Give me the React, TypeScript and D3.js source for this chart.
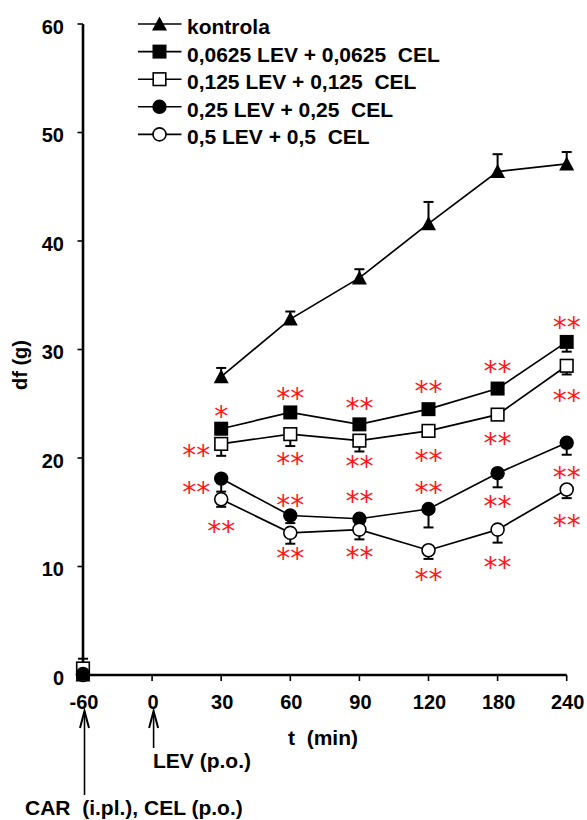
import React from "react";
import * as d3 from "d3";

// ---------- data ----------
const categories = ["-60", "0", "30", "60", "90", "120", "180", "240"];
const yTicks = [0, 10, 20, 30, 40, 50, 60];

const seriesNames = [
  "kontrola",
  "0,0625 LEV + 0,0625  CEL",
  "0,125 LEV + 0,125  CEL",
  "0,25 LEV + 0,25  CEL",
  "0,5 LEV + 0,5  CEL",
];
const seriesMarkers = ["triangle", "squareFilled", "squareOpen", "circleFilled", "circleOpen"];

// mean values (null = not measured); t = 0 has no point
const kontrola = [0, null, 27.5, 32.8, 36.6, 41.6, 46.4, 47.1];
const lev0625 = [0.2, null, 22.7, 24.2, 23.1, 24.5, 26.4, 30.7];
const lev125 = [0.6, null, 21.3, 22.2, 21.6, 22.5, 24.0, 28.5];
const lev25 = [0.1, null, 18.1, 14.7, 14.4, 15.3, 18.6, 21.4];
const lev5 = [0, null, 16.2, 13.1, 13.4, 11.5, 13.4, 17.1];

// SEM (positive = drawn upward, negative = drawn downward)
const kontrolaErr = [0, null, 0.8, 0.7, 0.8, 2.0, 1.6, 1.1];
const lev0625Err = [0, null, -0.5, -0.5, -0.5, -0.5, -0.5, -0.9];
const lev125Err = [0.9, null, -1.1, -1.1, -1.0, -0.5, -0.5, -0.8];
const lev25Err = [0, null, -1.2, -0.7, -0.5, -1.7, -1.3, -1.1];
const lev5Err = [0, null, -0.7, -1.0, -0.9, -0.8, -1.2, -0.8];

// significance marks, the value level where they sit, and side ("c" centred, "l" left)
const kontrolaSig = ["", "", "", "", "", "", "", ""];
const kontrolaSigAt = [null, null, null, null, null, null, null, null];
const kontrolaSigSide = ["c", "c", "c", "c", "c", "c", "c", "c"];
const lev0625Sig = ["", "", "*", "**", "**", "**", "**", "**"];
const lev0625SigAt = [null, null, 24.4, 26.1, 25.2, 26.7, 28.6, 32.6];
const lev0625SigSide = ["c", "c", "c", "c", "c", "c", "c", "c"];
const lev125Sig = ["", "", "**", "**", "**", "**", "**", "**"];
const lev125SigAt = [null, null, 20.8, 20.1, 19.8, 20.4, 21.9, 25.9];
const lev125SigSide = ["c", "c", "l", "c", "c", "c", "c", "c"];
const lev25Sig = ["", "", "**", "**", "**", "**", "**", "**"];
const lev25SigAt = [null, null, 17.4, 16.2, 16.6, 17.4, 16.1, 18.8];
const lev25SigSide = ["c", "c", "l", "c", "c", "c", "c", "c"];
const lev5Sig = ["", "", "**", "**", "**", "**", "**", "**"];
const lev5SigAt = [null, null, 13.8, 11.3, 11.4, 9.4, 10.5, 14.4];
const lev5SigSide = ["c", "c", "c", "c", "c", "c", "c", "c"];

const seriesValues = [kontrola, lev0625, lev125, lev25, lev5];
const seriesErrs = [kontrolaErr, lev0625Err, lev125Err, lev25Err, lev5Err];
const seriesSig = [kontrolaSig, lev0625Sig, lev125Sig, lev25Sig, lev5Sig];
const seriesSigAt = [kontrolaSigAt, lev0625SigAt, lev125SigAt, lev25SigAt, lev5SigAt];
const seriesSigSide = [kontrolaSigSide, lev0625SigSide, lev125SigSide, lev25SigSide, lev5SigSide];

// marker drawing order at the baseline (-60) point, where all groups overlap
const baselineDrawOrder = [0, 4, 1, 2, 3];

const connectedFrom = "30"; // lines start at 30 min
const annotations = [
  { at: "-60", text: "CAR  (i.pl.), CEL (p.o.)" },
  { at: "0", text: "LEV (p.o.)" },
];
const xTitle = "t  (min)";
const yTitle = "df (g)";

// ---------- layout ----------
const W = 587;
const H = 820;
const FONT = "'Liberation Sans', Arial, sans-serif";

const x = d3.scalePoint<string>().domain(categories).range([83, 566.7]).padding(0);
const y = d3.scaleLinear().domain([0, 60]).range([675, 24]);

function Marker({ type, cx, cy }: { type: string; cx: number; cy: number }) {
  if (type === "triangle") {
    const p = d3.path();
    p.moveTo(cx, cy - 7.5);
    p.lineTo(cx + 7.5, cy + 6.5);
    p.lineTo(cx - 7.5, cy + 6.5);
    p.closePath();
    return <path d={p.toString()} fill="#000" />;
  }
  if (type === "squareFilled") return <rect x={cx - 7} y={cy - 7} width={14} height={14} fill="#000" />;
  if (type === "squareOpen")
    return <rect x={cx - 6.3} y={cy - 6.3} width={12.6} height={12.6} fill="#fff" stroke="#000" strokeWidth={1.6} />;
  if (type === "circleFilled") return <circle cx={cx} cy={cy} r={7.2} fill="#000" />;
  return <circle cx={cx} cy={cy} r={6.5} fill="#fff" stroke="#000" strokeWidth={1.6} />;
}

export default function App() {
  const startIdx = categories.indexOf(connectedFrom);
  const line = d3
    .line<[string, number]>()
    .x((d) => x(d[0]) as number)
    .y((d) => y(d[1]));

  return (
    <svg width={W} height={H} style={{ display: "block", position: "absolute", left: 0, top: 0 }}>
      <rect width={W} height={H} fill="#fff" />
      {/* axes */}
      <line x1={x(categories[0])} x2={x(categories[0])} y1={y(60)} y2={y(0) + 1} stroke="#000" strokeWidth={2.6} />
      <line x1={x(categories[0]) - 1} x2={x(categories[categories.length - 1])} y1={y(0)} y2={y(0)} stroke="#000" strokeWidth={2.6} />
      {yTicks.map((t) => (
        <g key={"yt" + t}>
          <line x1={x(categories[0]) - 5.5} x2={x(categories[0])} y1={y(t)} y2={y(t)} stroke="#000" strokeWidth={1.6} />
          <text x={64} y={y(t) + 9.5} textAnchor="end" fontFamily={FONT} fontWeight="bold" fontSize={20}>
            {t}
          </text>
        </g>
      ))}
      {categories.map((c) => (
        <g key={"xt" + c}>
          <line x1={x(c)} x2={x(c)} y1={y(0)} y2={y(0) + 6} stroke="#000" strokeWidth={1.6} />
          <text x={(x(c) as number) + 1} y={709} textAnchor="middle" fontFamily={FONT} fontWeight="bold" fontSize={20}>
            {c}
          </text>
        </g>
      ))}
      <text x={288} y={745} fontFamily={FONT} fontWeight="bold" fontSize={21} style={{ whiteSpace: "pre" }}>
        {xTitle}
      </text>
      <text
        transform={`translate(27,365) rotate(-90)`}
        textAnchor="middle"
        fontFamily={FONT}
        fontWeight="bold"
        fontSize={20}
      >
        {yTitle}
      </text>

      {/* lines */}
      {seriesValues.map((vals, si) => {
        const pts: [string, number][] = [];
        vals.forEach((v, i) => {
          if (i >= startIdx && v != null) pts.push([categories[i], v]);
        });
        return <path key={"l" + si} d={line(pts) || ""} fill="none" stroke="#000" strokeWidth={1.7} />;
      })}

      {/* error bars */}
      {seriesValues.map((vals, si) =>
        vals.map((v, i) => {
          const e = seriesErrs[si][i];
          if (v == null || e == null || e === 0) return null;
          const cx = x(categories[i]) as number;
          const y0 = y(v);
          const y1 = y(v + e);
          return (
            <g key={"e" + si + "-" + i}>
              <line x1={cx} x2={cx} y1={y0} y2={y1} stroke="#000" strokeWidth={2} />
              <line x1={cx - 5} x2={cx + 5} y1={y1} y2={y1} stroke="#000" strokeWidth={2} />
            </g>
          );
        })
      )}

      {/* baseline markers */}
      {baselineDrawOrder.map((si) => {
        const v = seriesValues[si][0];
        if (v == null) return null;
        return <Marker key={"mb" + si} type={seriesMarkers[si]} cx={x(categories[0]) as number} cy={y(v)} />;
      })}

      {/* markers */}
      {seriesValues.map((vals, si) =>
        vals.map((v, i) =>
          v == null || i === 0 ? null : (
            <Marker key={"m" + si + "-" + i} type={seriesMarkers[si]} cx={x(categories[i]) as number} cy={y(v)} />
          )
        )
      )}

      {/* significance */}
      {seriesSig.map((sigs, si) =>
        sigs.map((s, i) => {
          const at = seriesSigAt[si][i];
          if (!s || at == null) return null;
          const cx = x(categories[i]) as number;
          const left = seriesSigSide[si][i] === "l";
          return (
            <text
              key={"s" + si + "-" + i}
              x={left ? cx - 11 : cx}
              y={y(at) + 16}
              textAnchor={left ? "end" : "middle"}
              fontFamily="'DejaVu Sans', sans-serif"
              fontSize={28}
              fill="#ff1a1a"
            >
              {s}
            </text>
          );
        })
      )}

      {/* legend */}
      {seriesNames.map((name, si) => {
        const ry = 24 + si * 27.6;
        return (
          <g key={"lg" + si}>
            <line x1={138} x2={181.5} y1={ry} y2={ry} stroke="#000" strokeWidth={1.6} />
            <Marker type={seriesMarkers[si]} cx={159.5} cy={ry} />
            <text x={187} y={ry + 10} fontFamily={FONT} fontWeight="bold" fontSize={21} style={{ whiteSpace: "pre" }}>
              {name}
            </text>
          </g>
        );
      })}

      {/* dosing arrows */}
      {annotations.map((a, ai) => {
        const ax = (x(a.at) as number) + 1.5;
        const tip = 711;
        const bottom = ai === 0 ? 795 : 748;
        return (
          <g key={"ar" + ai}>
            <line x1={ax} x2={ax} y1={tip + 2} y2={bottom} stroke="#000" strokeWidth={1.6} />
            <path
              d={`M${ax - 4.5},${tip + 17} L${ax},${tip} L${ax + 4.5},${tip + 17}`}
              fill="none"
              stroke="#000"
              strokeWidth={2}
            />
          </g>
        );
      })}
      <text x={153} y={768} fontFamily={FONT} fontWeight="bold" fontSize={21}>
        {annotations[1].text}
      </text>
      <text x={25} y={815} fontFamily={FONT} fontWeight="bold" fontSize={21} style={{ whiteSpace: "pre" }}>
        {annotations[0].text}
      </text>
    </svg>
  );
}
